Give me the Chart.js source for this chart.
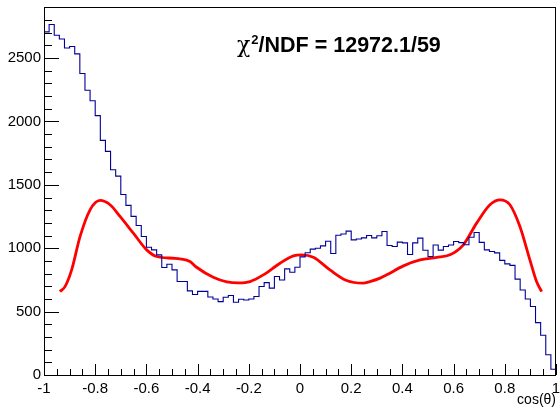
<!DOCTYPE html>
<html><head><meta charset="utf-8">
<script src="https://cdn.jsdelivr.net/npm/chart.js@4/dist/chart.umd.min.js"></script>
<style>html,body{margin:0;padding:0;background:#fff;}canvas{display:block;}</style>
</head><body>
<canvas id="c" width="560" height="407"></canvas>
<script>
// Histogram: 100 bins on [-1, 1]
const histRange = [-1, 1];
const counts = [
  2707, 2765, 2680, 2651, 2580, 2591, 2533, 2378, 2246, 2164,
  2046, 1851, 1764, 1619, 1569, 1424, 1338, 1251, 1179, 1093,
  1008, 987, 948, 848, 874, 829, 737, 737, 664, 635,
  660, 660, 615, 600, 579, 613, 627, 574, 598, 592,
  600, 619, 698, 729, 685, 777, 750, 837, 811, 850,
  932, 964, 993, 1000, 1019, 1055, 958, 1103, 1112, 1135,
  1066, 1073, 1082, 1100, 1082, 1098, 1132, 1022, 1014, 1048,
  1042, 950, 1042, 1080, 984, 935, 1025, 985, 1014, 1025,
  1053, 1044, 1027, 1087, 1124, 1046, 987, 974, 963, 904,
  877, 865, 756, 671, 599, 540, 413, 313, 160, 45
];
// Fit curve
const fitX = [-0.938, -0.918, -0.892, -0.859, -0.820, -0.781, -0.742, -0.703, -0.651, -0.599,
  -0.560, -0.495, -0.469, -0.430, -0.404, -0.339, -0.286, -0.241, -0.195, -0.143,
  -0.078, -0.026, 0.007, 0.052, 0.117, 0.182, 0.247, 0.273, 0.313, 0.339,
  0.404, 0.469, 0.534, 0.586, 0.638, 0.690, 0.742, 0.781, 0.820, 0.859,
  0.898, 0.924, 0.944];
const fitY = [658, 697, 829, 1093, 1303, 1377, 1343, 1251, 1119, 987,
  935, 921, 916, 895, 850, 771, 735, 727, 737, 790,
  882, 940, 948, 929, 829, 745, 724, 737, 764, 790,
  861, 908, 927, 948, 1027, 1198, 1343, 1382, 1343, 1171,
  908, 737, 658];
const yMax = 2903;
const xTickLabels = [-1, -0.8, -0.6, -0.4, -0.2, 0, 0.2, 0.4, 0.6, 0.8, 1];
const yTickLabels = [0, 500, 1000, 1500, 2000, 2500];
const xMajor = 0.2, xMinor = 0.05, yMajor = 500, yMinor = 100;
const chiText = ['χ', '2', '/NDF = 12972.1/59'];
const xTitle = 'cos(θ)';

const binW = (histRange[1] - histRange[0]) / counts.length;
const histPts = counts.map((c, i) => ({x: histRange[0] + i * binW, y: c}));
histPts.push({x: histRange[1], y: counts[counts.length - 1]});
const fitPts = fitX.map((x, i) => ({x, y: fitY[i]}));

const isMult = (v, s) => Math.abs(v / s - Math.round(v / s)) < 1e-6;
const FONT = '"Liberation Sans", Arial, Helvetica, sans-serif';

const rootAxes = {
  id: 'rootAxes',
  afterDraw(chart) {
    const ctx = chart.ctx;
    const a = chart.chartArea;
    const sx = chart.scales.x, sy = chart.scales.y;
    const L = Math.round(a.left), B = Math.round(a.bottom);
    const T = Math.round(a.top), R = Math.round(a.right);
    ctx.save();
    ctx.fillStyle = '#000';
    // x ticks (inward)
    const nx = Math.round((histRange[1] - histRange[0]) / xMinor);
    for (let i = 0; i <= nx; i++) {
      const v = histRange[0] + i * xMinor;
      const px = Math.round(sx.getPixelForValue(v));
      const len = isMult(v, xMajor) ? 11 : 6;
      ctx.fillRect(px, B - len, 1, len);
    }
    // y ticks (inward)
    for (let v = 0; v <= yMax; v += yMinor) {
      const py = Math.round(sy.getPixelForValue(v));
      const len = isMult(v, yMajor) ? 15 : 8;
      ctx.fillRect(L, py, len, 1);
    }
    // frame
    ctx.fillRect(L, T, R - L, 1);
    ctx.fillRect(L, B, R - L, 1);
    ctx.fillRect(L, T, 1, B - T + 1);
    ctx.fillRect(R - 1, T, 1, B - T + 1);
    // chi2 label
    ctx.textBaseline = 'alphabetic';
    let cx = 237; const base = 52;
    ctx.font = '22px "DejaVu Serif", "Liberation Serif", serif';
    ctx.fillText(chiText[0], cx, base);
    cx += ctx.measureText(chiText[0]).width + 1;
    ctx.font = 'bold 13px ' + FONT;
    ctx.fillText(chiText[1], cx, base - 8);
    cx += ctx.measureText(chiText[1]).width;
    ctx.font = 'bold 21.5px ' + FONT;
    ctx.fillText(chiText[2], cx, base);
    ctx.restore();
  }
};

new Chart(document.getElementById('c'), {
  type: 'line',
  data: {
    datasets: [
      {data: histPts, stepped: 'before', borderColor: '#000099', borderWidth: 1.1,
       pointRadius: 0, fill: false},
      {data: fitPts, borderColor: '#ff0000', borderWidth: 2.8, pointRadius: 0,
       cubicInterpolationMode: 'monotone', fill: false}
    ]
  },
  options: {
    responsive: false, animation: false, devicePixelRatio: 1,
    layout: {padding: {top: 7, right: 4, left: 0, bottom: 0}},
    plugins: {legend: {display: false}, tooltip: {enabled: false}, title: {display: false}},
    scales: {
      x: {
        type: 'linear', min: histRange[0], max: histRange[1],
        grid: {display: false, drawTicks: false}, border: {display: false},
        afterBuildTicks: s => { s.ticks = xTickLabels.map(v => ({value: v})); },
        ticks: {
          autoSkip: false, maxRotation: 0,
          padding: 5, color: '#000', font: {family: FONT, size: 15},
          callback: v => String(v)
        },
        title: {display: true, text: xTitle, align: 'end', color: '#000',
                font: {family: FONT, size: 14, lineHeight: 1}, padding: 0},
        afterFit: s => { s.height = 32; s.paddingLeft = 0; s.paddingRight = 0; }
      },
      y: {
        type: 'linear', min: 0, max: yMax,
        grid: {display: false, drawTicks: false}, border: {display: false},
        afterBuildTicks: s => { s.ticks = yTickLabels.map(v => ({value: v})); },
        ticks: {
          autoSkip: false,
          padding: 3, color: '#000', font: {family: FONT, size: 15},
          callback: v => String(v)
        },
        afterFit: s => { s.width = 44; s.paddingTop = 0; s.paddingBottom = 0; }
      }
    }
  },
  plugins: [rootAxes]
});
</script>
</body></html>
